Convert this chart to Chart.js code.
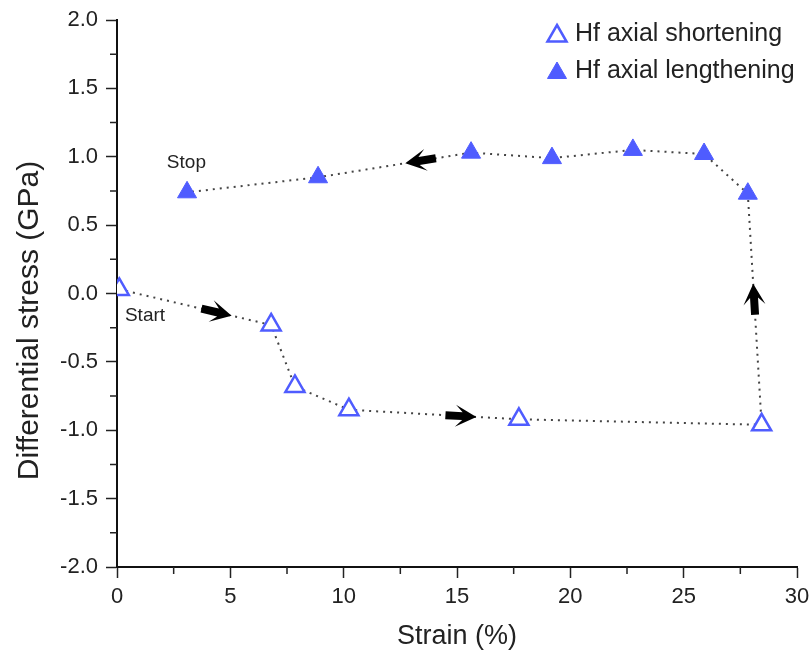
<!DOCTYPE html>
<html>
<head>
<meta charset="utf-8">
<script src="https://cdn.jsdelivr.net/npm/chart.js@4/dist/chart.umd.min.js"></script>
<style>
  body { margin: 0; background: #fff; }
</style>
</head>
<body>
<canvas id="chart" width="812" height="658"></canvas>
<script>
'use strict';

// strain (%) and differential stress (GPa), in loading order
const shortStrain = [0.1, 6.8, 7.85, 10.23, 17.73, 28.44];
const shortStress = [0.03, -0.23, -0.68, -0.85, -0.92, -0.96];
const longStrain = [27.83, 25.9, 22.76, 19.19, 15.62, 8.87, 3.09];
const longStress = [0.73, 1.02, 1.05, 0.99, 1.03, 0.85, 0.74];

const xTicks = [0, 5, 10, 15, 20, 25, 30];
const yTicks = [-2.0, -1.5, -1.0, -0.5, 0.0, 0.5, 1.0, 1.5, 2.0];

const seriesNames = ['Hf axial shortening', 'Hf axial lengthening'];
const yTitle = 'Differential stress (GPa)';

// direction arrows: segment index along the whole path and fraction along it
const arrowSegments = [0, 3, 5, 10];
const arrowFractions = [0.74, 0.75, 0.61, 0.43];

const BLUE = '#4f5cff';
const INK = '#222';
const FONT = 'Arial, "Liberation Sans", sans-serif';

const toPoints = (xs, ys) => xs.map((x, i) => ({ x, y: ys[i] }));
const shortPts = toPoints(shortStrain, shortStress);
const longPts = toPoints(longStrain, longStress);
const pathPts = shortPts.concat(longPts);

const minorTicks = {
  id: 'minorTicks',
  afterDraw(chart) {
    const { ctx, chartArea: a, scales: { x, y } } = chart;
    ctx.save();
    ctx.strokeStyle = INK;
    ctx.lineWidth = 1.5;
    ctx.beginPath();
    for (let i = 0; i < xTicks.length - 1; i++) {
      const px = x.getPixelForValue((xTicks[i] + xTicks[i + 1]) / 2);
      ctx.moveTo(px, a.bottom);
      ctx.lineTo(px, a.bottom + 7);
    }
    for (let i = 0; i < yTicks.length - 1; i++) {
      const py = y.getPixelForValue((yTicks[i] + yTicks[i + 1]) / 2);
      ctx.moveTo(a.left, py);
      ctx.lineTo(a.left - 7, py);
    }
    ctx.stroke();

    // y axis title, sitting a little below the middle of the axis
    ctx.fillStyle = INK;
    ctx.font = `30px ${FONT}`;
    ctx.textAlign = 'center';
    ctx.textBaseline = 'middle';
    ctx.translate(30, (a.top + a.bottom) / 2 + 27);
    ctx.rotate(-Math.PI / 2);
    ctx.fillText(yTitle, 0, 0);
    ctx.restore();
  },
};

const arrows = {
  id: 'arrows',
  afterDatasetsDraw(chart) {
    const { ctx, scales: { x, y } } = chart;
    ctx.save();
    ctx.fillStyle = '#000';
    arrowSegments.forEach((seg, i) => {
      const p0 = pathPts[seg];
      const p1 = pathPts[seg + 1];
      const x0 = x.getPixelForValue(p0.x), y0 = y.getPixelForValue(p0.y);
      const x1 = x.getPixelForValue(p1.x), y1 = y.getPixelForValue(p1.y);
      const t = arrowFractions[i];
      const tx = x0 + (x1 - x0) * t;
      const ty = y0 + (y1 - y0) * t;
      ctx.save();
      ctx.translate(tx, ty);
      ctx.rotate(Math.atan2(y1 - y0, x1 - x0));
      ctx.beginPath();
      ctx.moveTo(0, 0);
      ctx.lineTo(-21, -11);
      ctx.lineTo(-14, -4);
      ctx.lineTo(-31, -4);
      ctx.lineTo(-31, 4);
      ctx.lineTo(-14, 4);
      ctx.lineTo(-21, 11);
      ctx.closePath();
      ctx.fill();
      ctx.restore();
    });
    ctx.restore();
  },
};

const notes = {
  id: 'notes',
  afterDraw(chart) {
    const { ctx, chartArea: a, scales: { x, y } } = chart;
    ctx.save();
    ctx.fillStyle = INK;
    ctx.textBaseline = 'middle';
    ctx.font = `19px ${FONT}`;
    ctx.fillText('Start', x.getPixelForValue(0.35), y.getPixelForValue(-0.165));
    ctx.fillText('Stop', x.getPixelForValue(2.2), y.getPixelForValue(0.955));

    // legend, top right inside the axes
    const lx = a.right - 240;
    const rows = [a.top + 14, a.top + 51];
    const styles = [
      { pointStyle: 'triangle', backgroundColor: '#fff', borderColor: BLUE, borderWidth: 2.5, radius: 11 },
      { pointStyle: 'triangle', backgroundColor: BLUE, borderColor: BLUE, borderWidth: 1, radius: 11 },
    ];
    ctx.font = `25px ${FONT}`;
    rows.forEach((ry, i) => {
      ctx.fillStyle = styles[i].backgroundColor;
      ctx.strokeStyle = styles[i].borderColor;
      ctx.lineWidth = styles[i].borderWidth;
      Chart.helpers.drawPoint(ctx, styles[i], lx, ry + 2);
      ctx.fillStyle = INK;
      ctx.fillText(seriesNames[i], lx + 18, ry);
    });
    ctx.restore();
  },
};

const axisCommon = {
  border: { display: true, color: '#111', width: 2 },
  grid: { drawOnChartArea: false, drawTicks: true, tickLength: 11, tickWidth: 1.5, tickColor: INK },
};

new Chart(document.querySelector('#chart'), {
  type: 'scatter',
  data: {
    datasets: [
      {
        label: 'path',
        data: pathPts,
        showLine: true,
        borderColor: '#444',
        borderWidth: 2,
        borderDash: [2, 5],
        pointRadius: 0,
        order: 3,
      },
      {
        label: seriesNames[0],
        data: shortPts,
        pointStyle: 'triangle',
        pointRadius: 11,
        pointBackgroundColor: '#fff',
        pointBorderColor: BLUE,
        pointBorderWidth: 2.5,
        order: 1,
      },
      {
        label: seriesNames[1],
        data: longPts,
        pointStyle: 'triangle',
        pointRadius: 11,
        pointBackgroundColor: BLUE,
        pointBorderColor: BLUE,
        pointBorderWidth: 1,
        order: 2,
      },
    ],
  },
  options: {
    responsive: false,
    devicePixelRatio: 1,
    animation: false,
    layout: { padding: { top: 20, right: 15, left: 0, bottom: 0 } },
    plugins: {
      legend: { display: false },
      tooltip: { enabled: false },
    },
    scales: {
      x: {
        ...axisCommon,
        type: 'linear',
        min: xTicks[0],
        max: xTicks[xTicks.length - 1],
        afterBuildTicks: (scale) => { scale.ticks = xTicks.map((v) => ({ value: v })); },
        afterFit: (scale) => {
          scale.height = 91;
          // let the end labels hang past the plot edge
          scale.paddingLeft = 0;
          scale.paddingRight = 0;
        },
        ticks: {
          color: INK,
          padding: 6,
          font: { family: FONT, size: 22 },
          callback: (v) => String(v),
        },
        title: {
          display: true,
          text: 'Strain (%)',
          color: INK,
          font: { family: FONT, size: 27 },
          padding: { top: 0, bottom: 5 },
        },
      },
      y: {
        ...axisCommon,
        type: 'linear',
        min: yTicks[0],
        max: yTicks[yTicks.length - 1],
        afterBuildTicks: (scale) => { scale.ticks = yTicks.map((v) => ({ value: v })); },
        afterFit: (scale) => {
          scale.width = 117;
          scale.paddingTop = 0;
          scale.paddingBottom = 0;
        },
        ticks: {
          color: INK,
          padding: 8,
          font: { family: FONT, size: 22 },
          callback: (v) => Number(v).toFixed(1),
        },
      },
    },
  },
  plugins: [minorTicks, arrows, notes],
});
</script>
</body>
</html>
